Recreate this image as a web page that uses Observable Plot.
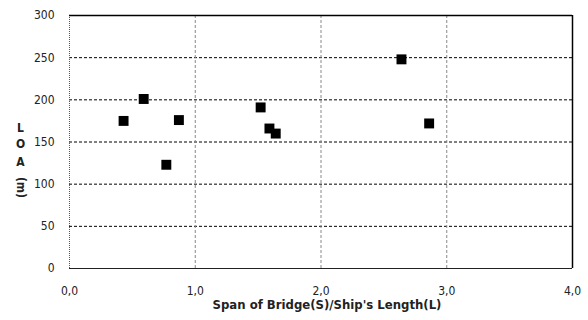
<!DOCTYPE html>
<html>
<head>
<meta charset="utf-8">
<script src="https://cdn.jsdelivr.net/npm/d3@7"></script>
<script src="https://cdn.jsdelivr.net/npm/@observablehq/plot@0.6"></script>
<style>
  html, body { margin: 0; padding: 0; background: #fff; }
</style>
</head>
<body>
<div id="chart"></div>
<script>
const spanRatio = [0.43, 0.59, 0.77, 0.87, 1.52, 1.59, 1.64, 2.64, 2.86];
const loa = [175, 201, 123, 176, 191, 166, 160, 248, 172];
const xTicks = [0, 1, 2, 3, 4];
const yTicks = [0, 50, 100, 150, 200, 250, 300];
const yGrid = [50, 100, 150, 200, 250];
const xGrid = [1, 2, 3];
const xTitle = "Span of Bridge(S)/Ship's Length(L)";
const yTitleLetters = ["L", "O", "A"];
const yTitleUnit = "(m)";

const points = spanRatio.map((s, i) => ({s, loa: loa[i]}));
const font = "'Liberation Sans Narrow', 'DejaVu Sans Condensed', 'Liberation Sans', sans-serif";
const letterDy = [-13.5, 2, 20.5];

const chart = Plot.plot({
  width: 588,
  height: 320,
  marginLeft: 69,
  marginRight: 16,
  marginTop: 15,
  marginBottom: 52,
  style: {fontFamily: font, fontSize: "12px", color: "#222", background: "#fff"},
  x: {domain: [0, 4]},
  y: {domain: [0, 300]},
  marks: [
    Plot.ruleY(yGrid, {stroke: "#000", strokeDasharray: "3,2", strokeWidth: 1}),
    Plot.ruleX(xGrid, {stroke: "#888", strokeDasharray: "3,2", strokeWidth: 1}),
    Plot.ruleX([0], {stroke: "#555", strokeDasharray: "1,1", strokeWidth: 1}),
    Plot.ruleY([0], {stroke: "#222", strokeWidth: 1}),
    Plot.ruleY([300], {stroke: "#000", strokeWidth: 1.5}),
    Plot.ruleX([4], {stroke: "#000", strokeWidth: 1.5}),
    Plot.dot(points, {x: "s", y: "loa", symbol: "square", r: 5.6, fill: "#000", stroke: "none"}),
    Plot.axisX(xTicks, {tickSize: 0, tickPadding: 18, tickFormat: d => d.toFixed(1).replace(".", ","), label: null, fontSize: 12}),
    Plot.axisY(yTicks, {tickSize: 0, tickPadding: 15, label: null, fontSize: 12}),
    Plot.text([xTitle], {frameAnchor: "bottom", dy: 40, dx: 6, fontWeight: "bold", fontSize: 13}),
    ...yTitleLetters.map((c, i) => Plot.text([c], {frameAnchor: "left", textAnchor: "middle", dx: -49, dy: letterDy[i], fontWeight: "bold", fontSize: 12})),
    Plot.text([yTitleUnit], {frameAnchor: "left", textAnchor: "middle", dx: -49, dy: 45.5, rotate: 90, fontWeight: "bold", fontSize: 12})
  ]
});
document.getElementById("chart").appendChild(chart);
</script>
</body>
</html>
